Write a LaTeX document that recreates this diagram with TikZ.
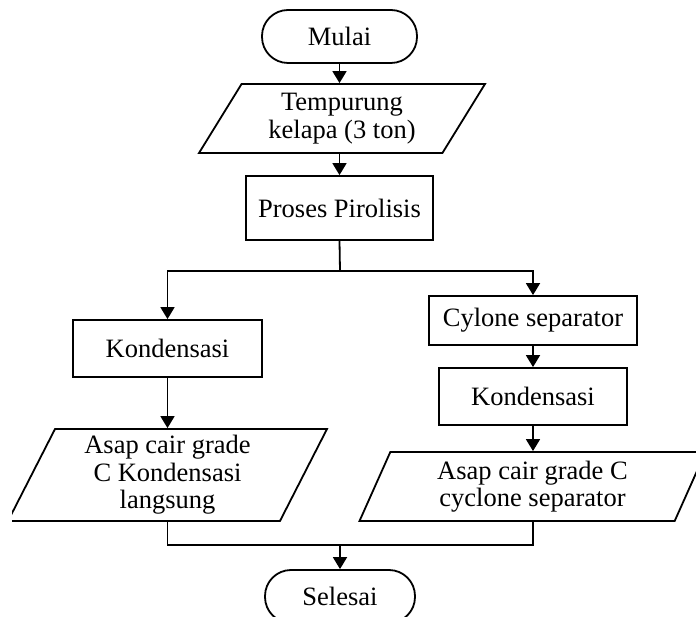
\documentclass[tikz,border=0pt]{standalone}
\usepackage{fontspec}
\setmainfont{Liberation Serif}
\usetikzlibrary{shapes.geometric,arrows.meta}
\tikzset{
  every node/.style={font=\fontsize{26.5}{27.5}\selectfont, align=center, inner sep=2pt},
  term/.style={draw, line width=1.8pt, rectangle, rounded corners=26pt, minimum width=#1, minimum height=53pt},
  proc/.style={draw, line width=1.8pt, rectangle},
  io/.style={draw, line width=1.8pt, trapezium, trapezium left angle=#1, trapezium right angle=180-#1, trapezium stretches body=true},
  conn/.style={line width=1.8pt},
  arr/.style={line width=1.8pt, -{Triangle[width=14pt,length=12pt]}},
}
\begin{document}
\begin{tikzpicture}[x=1pt,y=-1pt]
\useasboundingbox (0,0) rectangle (696,617);
\clip (12,0) rectangle (696,617);
\node[term=155pt] (mulai) at (339.5,36.5) {Mulai};
\node[io=52, minimum width=286pt, minimum height=69pt] (p1) at (342,118.5) {Tempurung\\kelapa (3 ton)};
\node[proc, minimum width=187pt, minimum height=64pt] (pp) at (339.5,208) {Proses Pirolisis};
\node[proc, minimum width=189pt, minimum height=57pt] (k1) at (167.5,348.5) {Kondensasi};
\node[proc, minimum width=208pt, minimum height=49pt] (cy) at (533,320.5) {Cylone separator};
\node[proc, minimum width=188pt, minimum height=57pt] (k2) at (533,396.5) {Kondensasi};
\node[io=60.5, minimum width=319pt, minimum height=92pt] (p2) at (167.5,475) {Asap cair grade\\C Kondensasi\\langsung};
\node[io=61, minimum width=346pt, minimum height=69pt] (p3) at (532.5,486.5) {Asap cair grade C\\cyclone separator};
\node[term=150pt] (selesai) at (340,596.5) {Selesai};
\coordinate (br) at (340,271);
\coordinate (mg) at (340,545);
\draw[arr] (mulai.south) -- (mulai.south |- p1.north);
\draw[arr] (mulai.south |- p1.south) -- (mulai.south |- pp.north);
\draw[conn] (pp.south) -- (br);
\draw[arr] (br) -| (k1.north);
\draw[arr] (br) -| (cy.north);
\draw[arr] (k1.south) -- (k1.south |- p2.north);
\draw[arr] (cy.south) -- (k2.north);
\draw[arr] (k2.south) -- (k2.south |- p3.north);
\draw[conn] (k1.south |- p2.south) |- (mg) -| (k2.south |- p3.south);
\draw[arr] (mg) -- (selesai.north);
\end{tikzpicture}
\end{document}
